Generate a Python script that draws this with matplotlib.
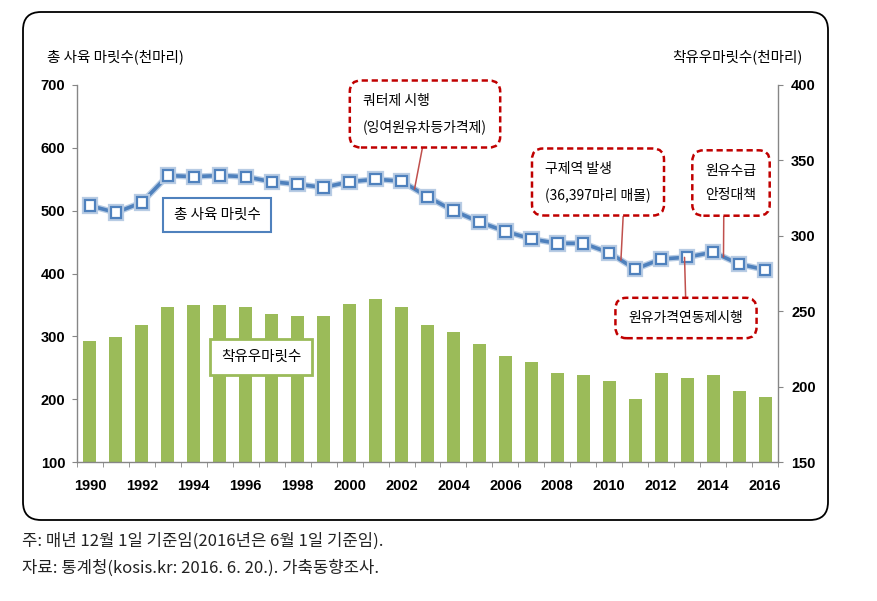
import matplotlib
matplotlib.use('Agg')
import matplotlib.pyplot as plt
import matplotlib.patheffects as pe
from matplotlib.patches import FancyBboxPatch
import numpy as np

plt.rcParams['font.family'] = ['Noto Sans CJK KR', 'DejaVu Sans']

# data (천 마리)
years = list(range(1990, 2017))
total_cows = [508, 497, 513, 556, 554, 556, 554, 546, 542, 537, 546, 550, 547,
              522, 500, 482, 467, 455, 448, 448, 433, 407, 423, 426, 434, 415, 406]
milk_cows = [230, 233, 241, 253, 254, 254, 253, 248, 247, 247, 255, 258, 253,
             241, 236, 228, 220, 216, 209, 208, 204, 192, 209, 206, 208, 197, 193]

left_title = '총 사육 마릿수(천마리)'
right_title = '착유우마릿수(천마리)'
line_label = '총 사육 마릿수'
bar_label = '착유우마릿수'
# event text, position on the year axis (index)
events = [('쿼터제 시행\n(잉여원유차등가격제)', 12.5),
          ('구제역 발생\n(36,397마리 매몰)', 20.45),
          ('원유수급\n안정대책', 24.4),
          ('원유가격연동제시행', 22.9)]
notes = ['주: 매년 12월 1일 기준임(2016년은 6월 1일 기준임).',
         '자료: 통계청(kosis.kr: 2016. 6. 20.). 가축동향조사.']

BLUE = '#4F81BD'
GREEN = '#9BBB59'
RED = '#C00000'
GRAY = '#868686'
num_font = ['Liberation Sans', 'DejaVu Sans']

W, H = 878, 601
fig = plt.figure(figsize=(W / 100, H / 100), dpi=100)
fig.patch.set_facecolor('white')

# pixel canvas for frame and free text
bg = fig.add_axes([0, 0, 1, 1], zorder=-5)
bg.set_xlim(0, W)
bg.set_ylim(H, 0)
bg.axis('off')
bg.add_patch(FancyBboxPatch((23, 12), 805, 508,
                            boxstyle='round,pad=0,rounding_size=18',
                            fc='white', ec='black', lw=1.3))

# main axes
left, right, top, bottom = 77, 778, 85, 462
ax = fig.add_axes([left / W, 1 - bottom / H, (right - left) / W, (bottom - top) / H])
ax2 = ax.twinx()
ax.set_zorder(ax2.get_zorder() + 1)
ax.patch.set_visible(False)

idx = np.arange(len(years))
ax2.bar(idx, milk_cows, width=0.5, color=GREEN, zorder=2)
ax.plot(idx, total_cows, color=BLUE, lw=2.6, marker='s', markersize=7.5,
        markerfacecolor='white', markeredgecolor=BLUE, markeredgewidth=1.6,
        path_effects=[pe.Stroke(linewidth=4.5, foreground='#B8CCE4'), pe.Normal()],
        zorder=3)

ax.set_xlim(-0.5, len(years) - 0.5)
ax.set_ylim(100, 700)
ax2.set_ylim(150, 400)
ax.set_yticks(range(100, 701, 100))
ax2.set_yticks(range(150, 401, 50))

ax.set_xticks(idx[::2])
ax.set_xticklabels([str(y) for y in years[::2]])
ax.set_xticks(np.arange(-0.5, len(years), 1), minor=True)
ax.tick_params(axis='x', which='major', length=0, pad=12)
ax.tick_params(axis='x', which='minor', length=3.5, color=GRAY, direction='out')
ax.tick_params(axis='y', length=3.5, color=GRAY, pad=5)
ax2.tick_params(axis='y', length=3.5, color=GRAY, pad=6)
for lab in ax.get_xticklabels() + ax.get_yticklabels() + ax2.get_yticklabels():
    lab.set_fontfamily(num_font)
    lab.set_fontweight('bold')
    lab.set_fontsize(10.5)

for s in ['top', 'right']:
    ax.spines[s].set_visible(False)
for s in ['top', 'left', 'bottom']:
    ax2.spines[s].set_visible(False)
for sp in [ax.spines['left'], ax.spines['bottom'], ax2.spines['right']]:
    sp.set_color(GRAY)
    sp.set_linewidth(1.0)

# axis titles
bg.text(47, 57, left_title, ha='left', va='center', fontsize=10.5, fontweight='medium')
bg.text(803, 57, right_title, ha='right', va='center', fontsize=10.5, fontweight='medium')

# series labels
ax.text(217, 215, line_label, transform=bg.transData, ha='center', va='center',
        fontsize=10.5, zorder=6,
        bbox=dict(boxstyle='square,pad=0.7', fc='white', ec=BLUE, lw=1.5))
ax.text(261, 357, bar_label, transform=bg.transData, ha='center', va='center',
        fontsize=10.5, zorder=6,
        bbox=dict(boxstyle='square,pad=0.75', fc='white', ec=GREEN, lw=2))

# event call-outs
box_pos = [(425, 114), (598, 182), (731, 183), (686, 318)]
rel_pos = [(0.5, 0), (0.745, 0), (0.36, 0), (0.5, 1)]
for (txt, xpos), (px, py), rp in zip(events, box_pos, rel_pos):
    yval = np.interp(xpos, idx, total_cows)
    ax.annotate(txt, xy=(xpos, yval), xycoords='data',
                xytext=(px, py), textcoords=bg.transData,
                ha='center', va='center', multialignment='left',
                fontsize=10, linespacing=2.0, zorder=6,
                bbox=dict(boxstyle='round,pad=0.95,rounding_size=0.8',
                          fc='white', ec=RED, lw=1.8, ls=(0, (2.5, 1.5))),
                arrowprops=dict(arrowstyle='-', color='#C0504D', lw=1.1,
                                shrinkA=0, shrinkB=0, relpos=rp))

# notes
bg.text(22, 541, notes[0], ha='left', va='center', fontsize=12, color='#222222')
bg.text(22, 568, notes[1], ha='left', va='center', fontsize=12, color='#222222')

fig.savefig('out.png', dpi=100)
